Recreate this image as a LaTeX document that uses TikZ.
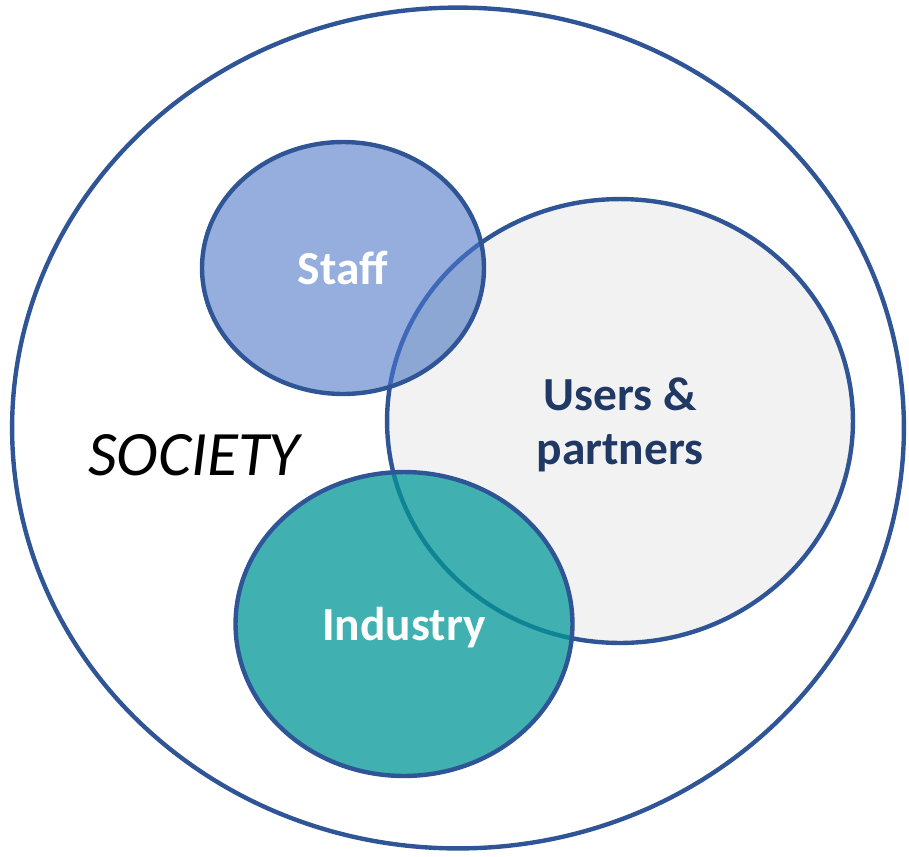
\documentclass[tikz,border=0pt]{standalone}
\usepackage{fontspec}
\setmainfont{Carlito}
\usetikzlibrary{shapes.geometric}
\definecolor{ringblue}{HTML}{2F5597}
\definecolor{lineblue}{HTML}{3E68B8}
\definecolor{lineteal}{HTML}{0E8494}
\definecolor{staffblue}{HTML}{95AEDE}
\definecolor{staffdark}{HTML}{8DA7D4}
\definecolor{userbg}{HTML}{F2F2F2}
\definecolor{usertext}{HTML}{1F3864}
\definecolor{teal}{HTML}{40B0B0}

\begin{document}
\begin{tikzpicture}[x=0.02cm,y=-0.02cm]
\useasboundingbox (0,0) rectangle (909,856);
\tikzset{Ring/.style ={shape=ellipse, draw=ringblue, line width=2.5pt, inner sep=0},
  Label/.style ={font=\bfseries\fontsize{27}{31}\selectfont, align=center, text depth=0pt}}
% outer ring and the big set
\node[Ring, minimum width=17.84cm, minimum height=16.82cm] (society) at (458,428) {};
\node[Ring, fill=userbg, text=usertext, Label, minimum width=9.32cm, minimum height=8.88cm] (users) at (620,421) {Users \&\\partners};
% the two smaller sets lie on top
\node[Ring, fill=staffblue, text=white, Label, minimum width=5.64cm, minimum height=5.04cm,
  path picture={\fill[staffdark] (users.center) ellipse [x radius=4.66cm, y radius=4.44cm];
    \draw[lineblue, line width=2.5pt] (users.center) ellipse [x radius=4.66cm, y radius=4.44cm];}] (staff) at (343,268) {Staff};
\node[Ring, fill=teal, text=white, Label, minimum width=6.74cm, minimum height=6.08cm,
  path picture={\draw[lineteal, line width=2.5pt] (users.center) ellipse [x radius=4.66cm, y radius=4.44cm];}] (industry) at (404,624) {Industry};
\node[font=\itshape\fontsize{36}{42}\selectfont] (label) at (194,455) {SOCIETY};
\end{tikzpicture}
\end{document}
